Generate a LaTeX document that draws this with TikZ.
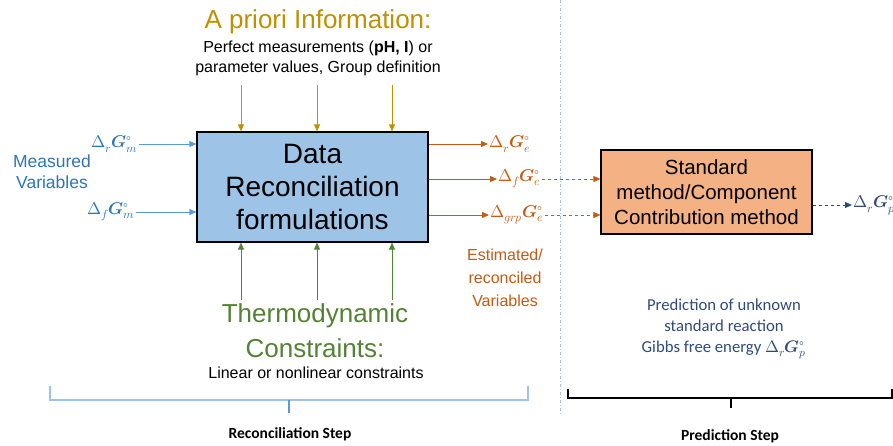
\documentclass[tikz,border=0pt]{standalone}
\usepackage{fontspec}
\usepackage{unicode-math}
\setmainfont{Liberation Sans}
\setmathfont{Latin Modern Math}
\newfontfamily\calib{Carlito}
\usepackage{tikz}
\usetikzlibrary{arrows.meta,positioning}
\definecolor{recfill}{HTML}{9DC3E6}
\definecolor{predfill}{HTML}{F4B183}
\definecolor{gold}{HTML}{BF9000}
\definecolor{thermgreen}{HTML}{548235}
\definecolor{measblue}{HTML}{2E75B6}
\definecolor{measarrow}{HTML}{5B9BD5}
\definecolor{estorange}{HTML}{C55A11}
\definecolor{preddark}{HTML}{2F4B7C}
\newcommand{\arrowwidth}{0.8pt}
\newcommand{\tip}{-{Triangle[length=7pt,width=6pt]}}
\tikzset{
  recbox/.style={draw, line width=1.2pt, fill=recfill, minimum width=231pt, minimum height=110pt, align=center, font=\fontsize{28}{33}\selectfont},
  predbox/.style={draw, line width=1.2pt, fill=predfill, minimum width=211pt, minimum height=84pt, align=center, font=\fontsize{20.5}{25}\selectfont},
  bigtitle/.style={align=center, font=\fontsize{26}{35}\selectfont},
  smalltext/.style={align=center, font=\fontsize{16}{20}\selectfont},
  mathlab/.style={font=\fontsize{17}{19}\selectfont, inner sep=1pt},
  steplab/.style={font=\calib\bfseries\fontsize{15.5}{17}\selectfont}
}
\begin{document}
\begin{tikzpicture}[x=1pt, y=-1pt]
\useasboundingbox (0,0) rectangle (893,445);
% boxes
\node (dr) at (312.5,187) [recbox] {Data\\Reconciliation\\formulations};
\node (sm) at (706.5,192) [predbox] {Standard\\method/Component\\Contribution method};
% a priori information
\node[text=gold] (ap) at (318,22) [bigtitle] {A priori Information:};
\node (apt) at (318,58) [smalltext] {Perfect measurements (\textbf{pH, I}) or\\parameter values, Group definition};
\coordinate (ap1) at (241,85);
\coordinate (ap2) at (317,85);
\coordinate (ap3) at (392,85);
\draw[gold] [line width=\arrowwidth, \tip] (ap1) -- (ap1 |- dr.north);
\draw[gold] [line width=\arrowwidth, \tip] (ap2) -- (ap2 |- dr.north);
\draw[gold] [line width=\arrowwidth, \tip] (ap3) -- (ap3 |- dr.north);
% thermodynamic constraints
\node[text=thermgreen] (tc) at (315,331) [bigtitle] {Thermodynamic\\Constraints:};
\node (tct) at (316,373) [smalltext] {Linear or nonlinear constraints};
\coordinate (tc1) at (241,300);
\coordinate (tc2) at (317,300);
\coordinate (tc3) at (392,300);
\draw[thermgreen] [line width=\arrowwidth, \tip] (tc1) -- (tc1 |- dr.south);
\draw[thermgreen] [line width=\arrowwidth, \tip] (tc2) -- (tc2 |- dr.south);
\draw[thermgreen] [line width=\arrowwidth, \tip] (tc3) -- (tc3 |- dr.south);
% measured variables
\node[text=measblue] (mv) at (52,172) [align=center, font=\fontsize{17.5}{21}\selectfont] {Measured\\Variables};
\node[text=measblue, anchor=east] (grm) at (139,144) [mathlab] {$\Delta_r\symbfit{G}^\circ_m$};
\node[text=measblue, anchor=east] (gfm) at (136,212) [mathlab] {$\Delta_f\symbfit{G}^\circ_m$};
\draw[measarrow] [line width=\arrowwidth, \tip] (grm.east) -- (grm.east -| dr.west);
\draw[measarrow] [line width=\arrowwidth, \tip] (gfm.east) -- (gfm.east -| dr.west);
% estimated variables
\node[text=estorange, anchor=west] (gre) at (488,144) [mathlab] {$\Delta_r\symbfit{G}^\circ_e$};
\node[text=estorange, anchor=west] (gfe) at (497,179) [mathlab] {$\Delta_f\symbfit{G}^\circ_e$};
\node[text=estorange, anchor=west] (gge) at (489,215) [mathlab] {$\Delta_{grp}\symbfit{G}^\circ_e$};
\draw[estorange] [line width=\arrowwidth, \tip] (dr.east |- gre.west) -- (gre.west);
\draw[estorange] [line width=\arrowwidth, \tip] (dr.east |- gfe.west) -- (gfe.west);
\draw[estorange] [line width=\arrowwidth, \tip] (dr.east |- gge.west) -- (gge.west);
\draw[estorange] [line width=\arrowwidth, dashed, \tip] (gfe.east) -- (gfe.east -| sm.west);
\draw[estorange] [line width=\arrowwidth, dashed, \tip] (gge.east) -- (gge.east -| sm.west);
\node[text=estorange] (est) at (505,278) [align=center, font=\fontsize{16}{23}\selectfont] {Estimated/\\reconciled\\Variables};
% separator
\draw[recfill] [line width=1pt, dash dot] (560,0) -- (560,415);
% prediction
\node[text=preddark, anchor=west] (grp) at (852,205) [mathlab] {$\Delta_r\symbfit{G}^\circ_p$};
\draw[preddark] [line width=\arrowwidth, dashed, \tip] (sm.east |- grp.west) -- (grp.west);
\node[text=preddark] (pu) at (724,329) [align=center, font=\calib\fontsize{16.7}{21}\selectfont] {Prediction of unknown\\standard reaction\\Gibbs free energy $\Delta_r\symbfit{G}^\circ_p$};
% brackets
\draw[recfill] [line width=1.2pt] (50,386) -- (50,400) -- (528,400) -- (528,386);
\draw[measarrow] [line width=1.5pt] (289,400) -- (289,413);
\draw[black] [line width=1.2pt] (568,389) -- (568,398) -- (892,398) -- (892,389);
\draw[black] [line width=1.2pt] (731,398) -- (731,408);
\node (rs) at (290,434) [steplab] {Reconciliation Step};
\node (ps) at (730,436) [steplab] {Prediction Step};
\end{tikzpicture}
\end{document}
